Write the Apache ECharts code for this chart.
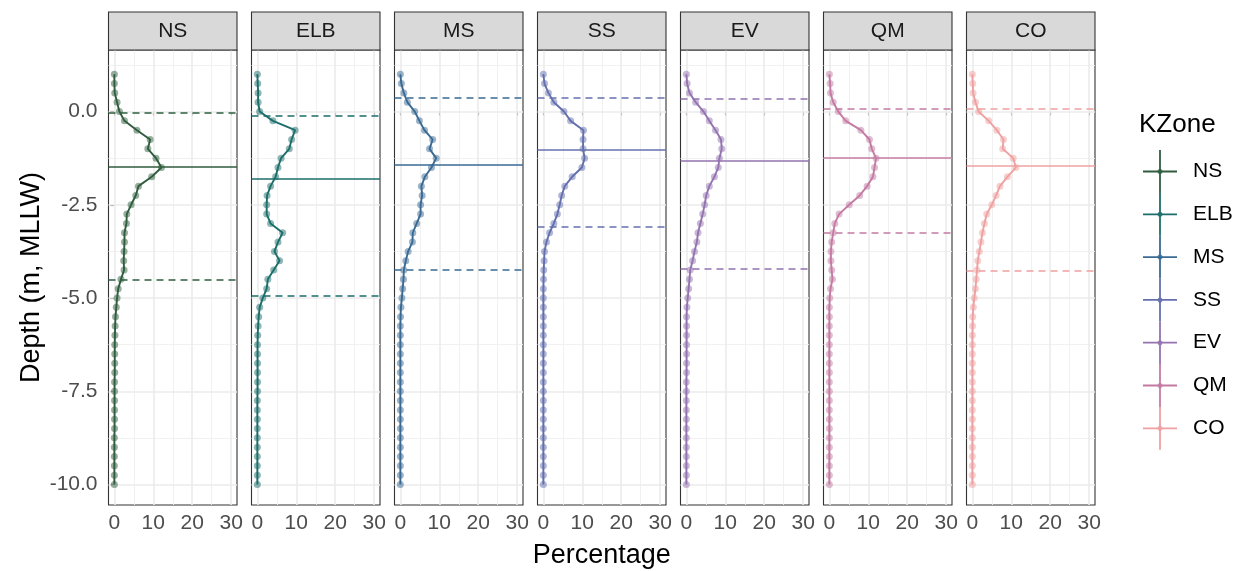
<!DOCTYPE html>
<html><head><meta charset="utf-8">
<script src="https://cdn.jsdelivr.net/npm/echarts@6/dist/echarts.min.js"></script>
<style>html,body{margin:0;padding:0;background:#fff}#c{width:1244px;height:571px}</style>
</head><body><div id="c"></div>
<script>
// ---------- data ----------
const zones = ['NS','ELB','MS','SS','EV','QM','CO'];
const zoneColors = ['#2F5D3E','#1B6E6A','#3A6A93','#6470AE','#9373B0','#C47BA3','#EFA0A0'];
const depths = [1.0,0.75,0.5,0.25,0,-0.25,-0.5,-0.75,-1.0,-1.25,-1.5,-1.75,-2.0,-2.25,-2.5,-2.75,-3.0,-3.25,-3.5,-3.75,-4.0,-4.25,-4.5,-4.75,-5.0,-5.25,-5.5,-5.75,-6.0,-6.25,-6.5,-6.75,-7.0,-7.25,-7.5,-7.75,-8.0,-8.25,-8.5,-8.75,-9.0,-9.25,-9.5,-9.75,-10.0];
const pctNS  = [0,0,0.1,0.7,1.3, 2.6,5.8,9.2,8.6,10.7, 12.1,9.6,6.2,5.5,4.3, 3.2,3.1,2.6,2.6,2.5, 2.4,2.5,1.7,1.0,0.7, 0.5,0.3,0.2,0.15, 0.1,0.1,0.1,0.1,0.05,0.05,0.05,0.05,0.05,0.05,0,0,0,0,0,0];
const pctELB = [0,0.1,0.2,0.2,0.6, 4.0,9.7,8.8,8.2,6.1, 5.3,4.7,3.4,2.5,2.4, 2.4,3.4,6.5,5.3,4.4, 5.7,4.2,2.7,2.4,1.4, 0.6,0.35,0.2,0.1, 0.05,0.05,0.05,0.05,0.05,0.05,0,0,0,0,0,0,0,0,0,0];
const pctMS  = [0,0.25,0.9,1.8,3.7, 4.9,6.2,8.3,7.5,9.2, 8.0,6.3,5.4,5.6,5.2, 5.2,4.2,3.2,3.1,2.0, 1.4,0.9,0.8,0.6,0.4, 0.15,0.05,0,0, 0,0,0,0,0,0,0,0,0,0,0,0,0,0,0,0];
const pctSS  = [0,0.3,1.3,2.7,5.3, 7.0,10.3,10.2,10.2,10.6, 9.9,7.4,5.5,4.7,4.2, 3.6,2.7,1.6,0.8,0.3, 0.2,0.1,0.05, 0,0,0,0,0,0,0,0,0,0,0,0,0,0,0,0,0,0,0,0,0,0];
const pctEV  = [0,0.2,0.8,2.4,4.4, 5.9,7.5,8.9,9.1,8.5, 8.2,7.2,5.9,5.1,4.7, 4.2,3.6,3.0,2.7,2.1, 1.6,1.0,0.8,0.6,0.35, 0.15,0.05,0.05,0.05, 0.05,0.05,0.05,0.05,0,0,0,0,0,0,0,0,0,0,0,0];
const pctQM  = [0,0.2,0.3,1.0,2.3, 4.2,8.1,10.3,10.9,12.0, 11.6,11.2,9.7,7.8,5.1, 2.5,1.4,1.0,0.6,0.4, 0.4,0.6,0.8,0.3,0.1, 0,0,0,0,0,0,0,0,0,0,0,0,0,0,0,0,0,0,0,0];
const pctCO  = [0,0.1,0.2,0.8,1.6, 4.2,6.3,8.0,7.8,10.5, 11.2,9.0,7.1,6.1,5.0, 3.7,3.1,2.6,2.2,1.8, 1.4,1.2,1.0,0.8,0.5, 0.25,0.1,0.05, 0,0,0,0,0,0,0,0,0,0,0,0,0,0,0,0,0];
const peakDepth  = [-1.47,-1.80,-1.43,-1.03,-1.31,-1.25,-1.45];
const upperDepth = [-0.02,-0.12,0.37,0.38,0.35,0.07,0.07];
const lowerDepth = [-4.50,-4.93,-4.25,-3.09,-4.22,-3.24,-4.27];
const xTicks = [0,10,20,30];
const xMinor = [5,15,25];
const yTicks = [0,-2.5,-5,-7.5,-10];
const yMinor = [1.25,-1.25,-3.75,-6.25,-8.75];
const yTitle = 'Depth (m, MLLW)';
const xTitle = 'Percentage';
const legendTitle = 'KZone';

// ---------- layout ----------
const pcts = [pctNS,pctELB,pctMS,pctSS,pctEV,pctQM,pctCO];
const FONT = '"Liberation Sans", Arial, Helvetica, sans-serif';
const LEFT0 = 108.5, PITCH = 143, PW = 128.5, TOP = 50, PH = 455;
const STRIP_TOP = 12, STRIP_H = 38;
const grids=[], xAxes=[], yAxes=[], series=[], graphics=[];

zones.forEach((z,i)=>{
  const left = LEFT0 + PITCH*i;
  const col = zoneColors[i];
  grids.push({left:left, top:TOP, width:PW, height:PH, show:true, borderColor:'#333333', borderWidth:1.1, backgroundColor:'#ffffff'});
  xAxes.push({gridIndex:i, type:'value', min:-1.5, max:31.5,
    axisLine:{show:false}, splitLine:{show:false},
    axisTick:{show:true, customValues:xTicks, length:4, lineStyle:{color:'#333333', width:1.1}},
    axisLabel:{show:true, customValues:xTicks, margin:8, color:'#4D4D4D', fontSize:21, fontFamily:FONT}});
  yAxes.push({gridIndex:i, type:'value', min:-10.55, max:1.65,
    axisLine:{show:false}, splitLine:{show:false},
    axisTick:{show:i===0, customValues:yTicks, length:4, lineStyle:{color:'#333333', width:1.1}},
    axisLabel:{show:i===0, customValues:yTicks, margin:11, color:'#4D4D4D', fontSize:21, fontFamily:FONT,
      formatter:v=>Number(v).toFixed(1)}});
  const major = {color:'#EBEBEB', width:1.6, type:'solid'};
  const minor = {color:'#EFEFEF', width:0.9, type:'solid'};
  series.push({type:'line', xAxisIndex:i, yAxisIndex:i, data:[], silent:true, z:1,
    markLine:{silent:true, z:1, symbol:['none','none'], label:{show:false}, animation:false,
      data:[].concat(
        xMinor.map(v=>({xAxis:v, lineStyle:minor})),
        yMinor.map(v=>({yAxis:v, lineStyle:minor})),
        xTicks.map(v=>({xAxis:v, lineStyle:major})),
        yTicks.map(v=>({yAxis:v, lineStyle:major})))}});
  const pts = depths.map((d,k)=>[pcts[i][k], d]);
  series.push({type:'scatter', name:z, xAxisIndex:i, yAxisIndex:i, data:pts, symbol:'circle', symbolSize:7,
    itemStyle:{color:col, opacity:0.5, borderWidth:0, borderColor:'transparent'}, z:3, silent:true});
  series.push({type:'line', name:z, xAxisIndex:i, yAxisIndex:i, data:pts, showSymbol:false, symbol:'none',
    lineStyle:{color:col, width:1.9}, z:4, silent:true,
    markLine:{silent:true, z:4, symbol:['none','none'], label:{show:false}, animation:false,
      data:[
        {yAxis:peakDepth[i], lineStyle:{color:col, width:1.7, type:'solid'}},
        {yAxis:upperDepth[i], lineStyle:{color:col, width:1.7, type:[7,5]}},
        {yAxis:lowerDepth[i], lineStyle:{color:col, width:1.7, type:[7,5]}}
      ]}});
  // facet strip
  graphics.push({type:'rect', shape:{x:left, y:STRIP_TOP, width:PW, height:STRIP_H},
    style:{fill:'#D9D9D9', stroke:'#333333', lineWidth:1.1}, z:10});
  graphics.push({type:'text', x:left+PW/2, y:STRIP_TOP+STRIP_H/2,
    style:{text:z, fill:'#1A1A1A', font:'21px '+FONT, textAlign:'center', textVerticalAlign:'middle'}, z:11});
  // legend key
  const ky = 171.5 + 42.8*i;
  graphics.push({type:'line', shape:{x1:1160, y1:ky-21.4, x2:1160, y2:ky+21.4}, style:{stroke:col, lineWidth:1.8}, z:10});
  graphics.push({type:'line', shape:{x1:1143, y1:ky, x2:1177, y2:ky}, style:{stroke:col, lineWidth:1.8}, z:10});
  graphics.push({type:'circle', shape:{cx:1160, cy:ky, r:2.5}, style:{fill:col, opacity:0.8}, z:11});
  graphics.push({type:'text', x:1193, y:ky,
    style:{text:z, fill:'#000000', font:'21px '+FONT, textAlign:'left', textVerticalAlign:'middle'}, z:11});
});

graphics.push({type:'text', x:1139, y:125,
  style:{text:legendTitle, fill:'#000000', font:'26px '+FONT, textAlign:'left', textVerticalAlign:'middle'}, z:11});
graphics.push({type:'text', x:(LEFT0 + LEFT0+PITCH*6+PW)/2, y:556,
  style:{text:xTitle, fill:'#000000', font:'27px '+FONT, textAlign:'center', textVerticalAlign:'middle'}, z:11});
graphics.push({type:'text', x:32, y:TOP+PH/2, rotation:Math.PI/2,
  style:{text:yTitle, fill:'#000000', font:'27px '+FONT, textAlign:'center', textVerticalAlign:'middle'}, z:11});

const chart = echarts.init(document.getElementById('c'), null, {renderer:'canvas'});
chart.setOption({
  animation:false,
  backgroundColor:'#ffffff',
  grid:grids, xAxis:xAxes, yAxis:yAxes, series:series, graphic:graphics
});
</script></body></html>
